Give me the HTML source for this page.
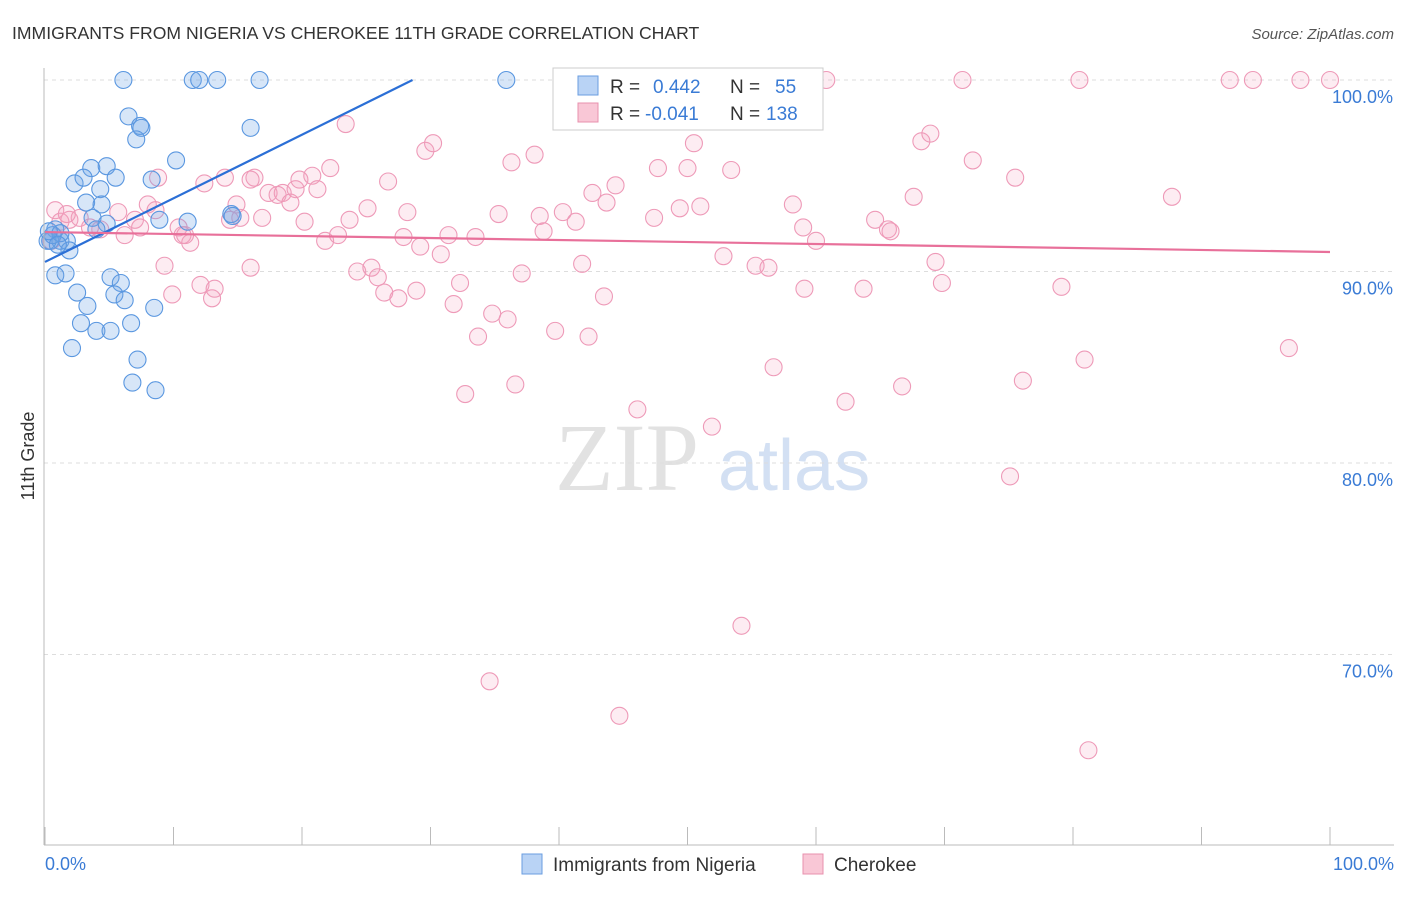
<!DOCTYPE html>
<html><head><meta charset="utf-8"><style>
body{margin:0;background:#fff;font-family:"Liberation Sans",sans-serif}
</style></head><body>
<svg id="c" width="1406" height="892" xmlns="http://www.w3.org/2000/svg" style="font-family:'Liberation Sans',sans-serif">
<text x="12" y="39" font-size="17.6" fill="#333">IMMIGRANTS FROM NIGERIA VS CHEROKEE 11TH GRADE CORRELATION CHART</text>
<text x="1394" y="39" font-size="15" fill="#555" font-style="italic" text-anchor="end">Source: ZipAtlas.com</text>
<text x="34" y="456" font-size="18" fill="#333" transform="rotate(-90 34 456)" text-anchor="middle">11th Grade</text>
<text x="555" y="490" font-size="96" fill="#e2e2e2" font-family="Liberation Serif,serif">ZIP</text>
<text x="718" y="490" font-size="72" fill="#d3e0f3">atlas</text>
<g id="grid"></g><g id="pts"></g><g id="lines"></g>
<line x1="44" y1="68" x2="44" y2="845" stroke="#bbb"/>
<line x1="44" y1="845" x2="1394" y2="845" stroke="#bbb"/>
<text x="45" y="870" font-size="18" fill="#3a7bd5">0.0%</text>
<text x="1394" y="870" font-size="18" fill="#3a7bd5" text-anchor="end">100.0%</text>
<rect x="553" y="68" width="270" height="62" fill="#fff" stroke="#ccc"/>
<rect x="578" y="76" width="20" height="19" fill="#b9d3f5" stroke="#6a9ee0"/>
<rect x="578" y="103" width="20" height="19" fill="#f9c7d6" stroke="#e890ae"/>
<text x="610" y="93" font-size="19" fill="#333">R =</text>
<text x="653" y="93" font-size="19" fill="#3a7bd5">0.442</text>
<text x="730" y="93" font-size="19" fill="#333">N =</text>
<text x="775" y="93" font-size="19" fill="#3a7bd5">55</text>
<text x="610" y="120" font-size="19" fill="#333">R =</text>
<text x="645" y="120" font-size="19" fill="#3a7bd5">-0.041</text>
<text x="730" y="120" font-size="19" fill="#333">N =</text>
<text x="766" y="120" font-size="19" fill="#3a7bd5">138</text>
<rect x="522" y="854" width="20" height="20" fill="#b9d3f5" stroke="#6a9ee0"/>
<text x="553" y="871" font-size="19" fill="#333">Immigrants from Nigeria</text>
<rect x="803" y="854" width="20" height="20" fill="#f9c7d6" stroke="#e890ae"/>
<text x="834" y="871" font-size="19" fill="#333">Cherokee</text>
</svg>
<script>
const yTicks=[100,90,80,70];
const yTickLabels=["100.0%","90.0%","80.0%","70.0%"];
const xTicks=[0,10,20,30,40,50,60,70,80,90,100];
const blueX=[6.1,11.5,12.0,13.4,16.7,35.9,6.5,7.4,7.5,7.1,16.0,10.2,3.6,4.8,2.3,3.0,5.5,8.3,4.3,3.2,4.4,3.7,8.9,11.1,14.5,4.8,4.0,0.8,0.4,1.2,1.7,1.9,0.8,1.6,2.5,5.1,5.9,5.4,6.2,3.3,8.5,2.8,4.0,5.1,6.7,2.1,7.2,6.8,8.6,0.2,0.6,1.2,14.6,0.3,1.0];
const blueY=[100,100,100,100,100,100,98.1,97.6,97.5,96.9,97.5,95.8,95.4,95.5,94.6,94.9,94.9,94.8,94.3,93.6,93.5,92.8,92.7,92.6,93.0,92.5,92.2,92.2,91.6,91.6,91.6,91.1,89.8,89.9,88.9,89.7,89.4,88.8,88.5,88.2,88.1,87.3,86.9,86.9,87.3,86.0,85.4,84.2,83.8,91.6,91.9,92.0,92.9,92.1,91.4];
const pinkX=[0.8,1.2,0.5,1.9,2.7,4.3,5.7,6.2,7.0,8.0,8.6,8.8,9.3,9.9,10.4,10.7,11.3,12.1,12.4,13.0,13.2,14.0,14.4,14.9,15.2,16.0,16.3,16.9,17.4,18.1,18.5,19.1,19.5,19.8,20.2,20.8,21.2,21.8,22.2,22.8,23.4,23.7,24.3,25.1,25.4,25.9,26.4,26.7,27.5,27.9,28.2,28.9,29.2,29.6,30.2,30.8,31.4,31.8,32.3,32.7,33.5,33.7,34.8,35.3,36.0,36.3,36.6,37.1,38.1,38.5,38.8,39.7,40.3,41.3,41.8,42.3,42.6,43.7,43.5,44.4,46.1,46.7,47.4,47.7,49.4,50.0,50.5,51.0,51.9,52.5,52.8,53.4,54.2,55.3,56.3,56.7,58.2,59.0,59.1,60.0,60.8,62.3,63.7,64.6,65.6,65.8,66.7,67.6,68.2,68.9,69.3,69.8,71.4,72.2,75.1,75.5,76.1,79.1,80.5,80.9,81.2,87.7,92.2,94.0,96.8,97.7,100,34.6,44.7,16.0,10.9,7.4,1.7,3.5];
const pinkY=[93.2,92.6,91.6,92.7,92.8,92.2,93.1,91.9,92.7,93.5,93.2,94.9,90.3,88.8,92.3,91.9,91.5,89.3,94.6,88.6,89.1,94.9,92.7,93.5,92.8,90.2,94.9,92.8,94.1,94.0,94.1,93.6,94.3,94.8,92.6,95.0,94.3,91.6,95.4,91.9,97.7,92.7,90.0,93.3,90.2,89.7,88.9,94.7,88.6,91.8,93.1,89.0,91.3,96.3,96.7,90.9,91.9,88.3,89.4,83.6,91.8,86.6,87.8,93.0,87.5,95.7,84.1,89.9,96.1,92.9,92.1,86.9,93.1,92.6,90.4,86.6,94.1,93.6,88.7,94.5,82.8,100,92.8,95.4,93.3,95.4,96.7,93.4,81.9,100,90.8,95.3,71.5,90.3,90.2,85.0,93.5,92.3,89.1,91.6,100,83.2,89.1,92.7,92.2,92.1,84.0,93.9,96.8,97.2,90.5,89.4,100,95.8,79.3,94.9,84.3,89.2,100,85.4,65.0,93.9,100,100,86.0,100,100,68.6,66.8,94.8,91.9,92.3,93.0,92.3];
const blueTrend=[90.5,100,0,28.6];   // y at x0, y at x1, x0, x1
const pinkTrend=[92.06,91.02,0,100];
const X=v=>45+v*12.85, Y=v=>80+(100-v)*19.15;
const NS="http://www.w3.org/2000/svg";
function mk(t,a,p){const e=document.createElementNS(NS,t);for(const k in a)e.setAttribute(k,a[k]);p.appendChild(e);return e;}
const grid=document.getElementById('grid'),pts=document.getElementById('pts'),lines=document.getElementById('lines'),svg=document.getElementById('c');
yTicks.forEach((v,i)=>{
 const l=mk('line',{x1:44,x2:1394,y1:Y(v),y2:Y(v),stroke:'#ddd','stroke-dasharray':'4,4'},grid);
 
 
 const t=mk('text',{x:1393,y:Y(v)+23,'font-size':18,fill:'#3a7bd5','text-anchor':'end'},svg);
 t.textContent=yTickLabels[i];
 
 
});
xTicks.forEach(v=>{
 const l=mk('line',{x1:X(v),x2:X(v),y1:827,y2:845,stroke:'#bbb'},grid);
 
 
});
pinkX.forEach((x,i)=>{
 const c=mk('circle',{cx:X(x),cy:Y(pinkY[i]),r:8.5,fill:'rgba(244,160,190,0.2)',stroke:'#ee9ab8','stroke-width':1.1},pts);
 
 
});
blueX.forEach((x,i)=>{
 const c=mk('circle',{cx:X(x),cy:Y(blueY[i]),r:8.5,fill:'rgba(110,165,230,0.28)',stroke:'#5a97e0','stroke-width':1.1},pts);
 
 
});
const bl=mk('line',{x1:X(blueTrend[2]),y1:Y(blueTrend[0]),x2:X(blueTrend[3]),y2:Y(blueTrend[1]),stroke:'#2b6fd6','stroke-width':2.2},lines);


const pl=mk('line',{x1:X(pinkTrend[2]),y1:Y(pinkTrend[0]),x2:X(pinkTrend[3]),y2:Y(pinkTrend[1]),stroke:'#e8709a','stroke-width':2.2},lines);


</script>
</body></html>
